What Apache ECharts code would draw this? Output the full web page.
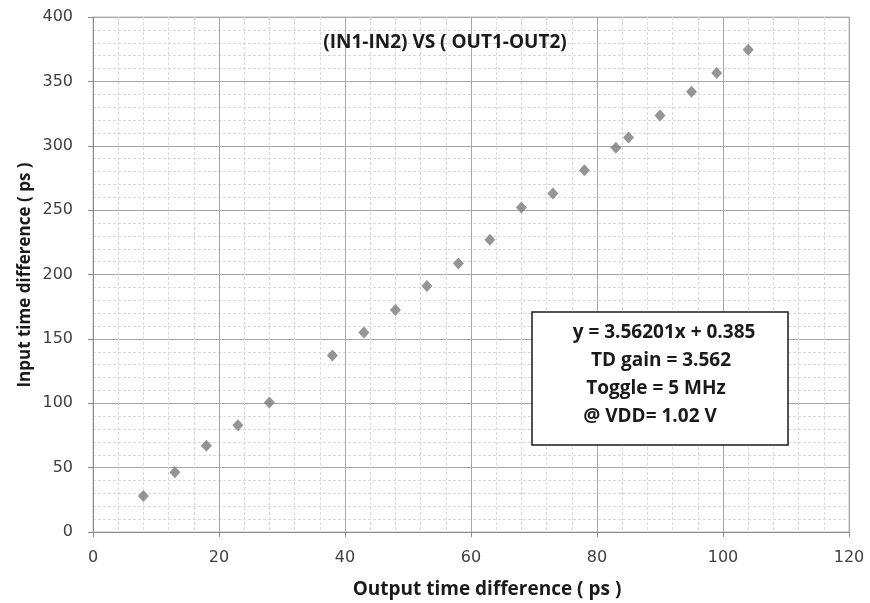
<!DOCTYPE html>
<html>
<head>
<meta charset="utf-8">
<script src="https://cdn.jsdelivr.net/npm/echarts@6/dist/echarts.min.js"></script>
<style>html,body{margin:0;padding:0;background:#fff}#c{width:870px;height:603px}</style>
</head>
<body>
<div id="c"></div>
<script>
const outputDiff = [8, 13, 18, 23, 28, 38, 43, 48, 53, 58, 63, 68, 73, 78, 83, 85, 90, 95, 99, 104];
const inputDiff  = [28, 46.5, 67, 83, 100.5, 137, 155, 172.5, 191, 208.5, 227, 252, 263, 281, 298.5, 306.5, 323.5, 342, 356.5, 374.5];
const titleText = '(IN1-IN2) VS ( OUT1-OUT2)';
const xTitle = 'Output time difference ( ps )';
const yTitle = 'Input time difference ( ps )';
const boxLines = ['y = 3.56201x + 0.385', 'TD gain = 3.562', 'Toggle = 5 MHz', '@ VDD= 1.02 V'];

const points = outputDiff.map((x, i) => [x, inputDiff[i]]);
const chart = echarts.init(document.getElementById('c'), null, {renderer: 'canvas'});
const boldFont = '"Open Sans", "Noto Sans", sans-serif';
const labelStyle = {color: '#404040', fontFamily: 'DejaVu Sans, sans-serif', fontSize: 16};
const axisCommon = {
  axisLine: {show: true, lineStyle: {color: '#8c8c8c', width: 1}},
  axisTick: {show: true, inside: false, length: 5, lineStyle: {color: '#8c8c8c'}},
  splitLine: {show: true, lineStyle: {color: '#a6a6a6', width: 1}},
  minorTick: {show: false, splitNumber: 5},
  minorSplitLine: {show: true, lineStyle: {color: '#d9d9d9', type: [3, 2], width: 1}}
};
const boxX = 532, boxY = 312, boxW = 256, boxH = 133;
const lineCenters = [664, 661, 656, 650];
const lineYs = [333, 361, 389, 417];
chart.setOption({
  animation: false,
  backgroundColor: '#ffffff',
  grid: {left: 93, right: 21, top: 17, bottom: 71, show: true, borderColor: '#bfbfbf', borderWidth: 1},
  xAxis: Object.assign({
    type: 'value', min: 0, max: 120, interval: 20,
    axisLabel: Object.assign({margin: 18}, labelStyle)
  }, axisCommon),
  yAxis: Object.assign({
    type: 'value', min: 0, max: 400, interval: 50,
    axisLabel: Object.assign({margin: 20}, labelStyle)
  }, axisCommon),
  series: [{
    type: 'scatter',
    data: points,
    symbol: 'diamond',
    symbolSize: [11, 12],
    itemStyle: {color: '#7b7b7b'},
    z: 5
  }],
  graphic: [
    {type: 'text', x: 445, y: 43, z: 10,
      style: {text: titleText, textAlign: 'center', textVerticalAlign: 'middle', font: 'bold 19px ' + boldFont, fill: '#1a1a1a'}},
    {type: 'text', x: 487, y: 590, z: 10,
      style: {text: xTitle, textAlign: 'center', textVerticalAlign: 'middle', font: 'bold 19px ' + boldFont, fill: '#1a1a1a'}},
    {type: 'text', x: 25, y: 275, rotation: Math.PI / 2, z: 10,
      style: {text: yTitle, textAlign: 'center', textVerticalAlign: 'middle', font: 'bold 17px ' + boldFont, fill: '#1a1a1a'}},
    {type: 'rect', z: 20, shape: {x: boxX, y: boxY, width: boxW, height: boxH},
      style: {fill: '#ffffff', stroke: '#1a1a1a', lineWidth: 1.5}},
    ...boxLines.map((t, i) => ({type: 'text', x: lineCenters[i], y: lineYs[i], z: 21,
      style: {text: t, textAlign: 'center', textVerticalAlign: 'middle', font: 'bold 19px ' + boldFont, fill: '#1a1a1a'}}))
  ]
});
</script>
</body>
</html>
